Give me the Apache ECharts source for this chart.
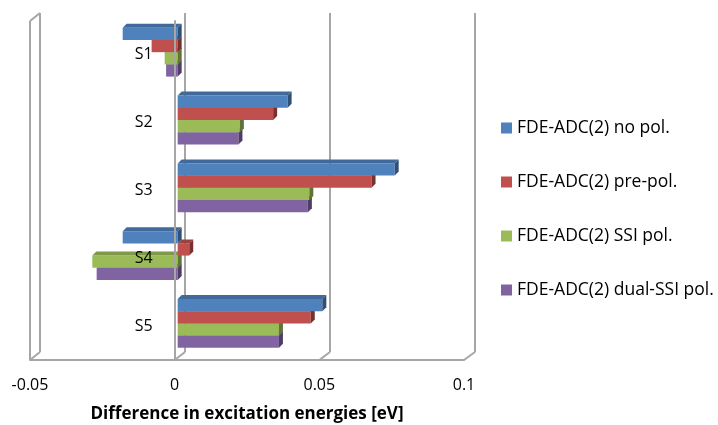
<!DOCTYPE html>
<html>
<head>
<meta charset="utf-8">
<script src="https://cdn.jsdelivr.net/npm/echarts@6/dist/echarts.min.js"></script>
<style>
  html, body { margin: 0; padding: 0; background: #fff; }
  #chart { width: 718px; height: 425px; }
</style>
</head>
<body>
<div id="chart"></div>
<script>
// Excitation-energy differences per state and polarisation scheme
const states = ['S1', 'S2', 'S3', 'S4', 'S5'];
const seriesNames = [
  'FDE-ADC(2) no pol.',
  'FDE-ADC(2) pre-pol.',
  'FDE-ADC(2) SSI pol.',
  'FDE-ADC(2) dual-SSI pol.'
];
const noPol      = [-0.019, 0.038, 0.075, -0.019, 0.050];
const prePol     = [-0.009, 0.033, 0.067,  0.004, 0.046];
const ssiPol     = [-0.0045, 0.0215, 0.0455, -0.0295, 0.035];
const dualSsiPol = [-0.004, 0.021, 0.045, -0.028, 0.035];
const valueTicks = [-0.05, 0, 0.05, 0.1];

const seriesValues = [noPol, prePol, ssiPol, dualSsiPol];
const colors = ['#4f81bd', '#c0504d', '#9bbb59', '#8064a2'];

const FONT = '"Open Sans", Lato, sans-serif';
const WALL = '#a6a6a6';

// front plane and back wall of the pseudo-3D plot box
const FRONT = { left: 30, top: 21, width: 434, height: 339 };
const BACK  = { left: 40, top: 13, width: 435, height: 339 };
const DEPTH = 4;     // bar depth in px
const SHIFT = 3;     // bars sit slightly behind the front plane
const CAT_LABEL_GAP = 22;

function shade(hex, f) {
  const n = parseInt(hex.slice(1), 16);
  const r = Math.round(((n >> 16) & 255) * f);
  const g = Math.round(((n >> 8) & 255) * f);
  const b = Math.round((n & 255) * f);
  return 'rgb(' + r + ',' + g + ',' + b + ')';
}

function renderBar(params, api) {
  const si = params.seriesIndex;
  const v = api.value(0);
  const c = api.value(1);
  const p0 = api.coord([0, c]);
  const p1 = api.coord([v, c]);
  const band = api.size([0, 1])[1];
  const h = band * 0.18;
  const y = p0[1] - band * 0.4 + si * h;
  const xa = Math.min(p0[0], p1[0]) + SHIFT;
  const xb = Math.max(p0[0], p1[0]) + SHIFT;
  const base = colors[si];
  const d = DEPTH;
  return {
    type: 'group',
    children: [
      { type: 'rect', shape: { x: xa, y: y, width: xb - xa, height: h },
        style: { fill: base } },
      { type: 'polygon', shape: { points: [[xa, y], [xb, y], [xb + d, y - d], [xa + d, y - d]] },
        style: { fill: shade(base, 0.82) } },
      { type: 'polygon', shape: { points: [[xb, y], [xb + d, y - d], [xb + d, y + h - d], [xb, y + h]] },
        style: { fill: shade(base, 0.62) } }
    ]
  };
}

const chart = echarts.init(document.getElementById('chart'), null, { renderer: 'canvas' });

const option = {
  backgroundColor: '#fff',
  animation: false,
  textStyle: { fontFamily: FONT },
  legend: {
    orient: 'vertical',
    left: 501,
    top: 119,
    padding: 0,
    itemWidth: 11,
    itemHeight: 11,
    itemGap: 36,
    icon: 'rect',
    textStyle: { fontFamily: FONT, fontSize: 17.5, lineHeight: 16, color: '#000' },
    data: seriesNames
  },
  grid: [
    Object.assign({ containLabel: false, outerBoundsMode: 'none' }, FRONT),
    Object.assign({ containLabel: false, outerBoundsMode: 'none' }, BACK)
  ],
  xAxis: [
    {
      type: 'value', gridIndex: 0,
      min: valueTicks[0], max: valueTicks[valueTicks.length - 1], interval: 0.05,
      axisLine: { show: true, onZero: false, lineStyle: { color: WALL, width: 2 } },
      axisTick: { show: false },
      splitLine: { show: false },
      axisLabel: { fontSize: 16, color: '#000', fontFamily: FONT, margin: 17,
                   formatter: v => String(+v.toFixed(2)) },
      name: 'Difference in excitation energies [eV]',
      nameLocation: 'middle',
      nameGap: 46,
      nameTextStyle: { fontSize: 17, fontWeight: 'bold', color: '#000', fontFamily: FONT }
    },
    {
      type: 'value', gridIndex: 1,
      min: valueTicks[0], max: valueTicks[valueTicks.length - 1], interval: 0.05,
      axisLine: { show: false }, axisTick: { show: false }, axisLabel: { show: false },
      splitLine: { show: true, lineStyle: { color: WALL, width: 2 } }
    }
  ],
  yAxis: [
    {
      type: 'category', gridIndex: 0, data: states, inverse: true, z: 10,
      axisLine: { show: true, onZero: true, lineStyle: { color: WALL, width: 2 } },
      axisTick: { show: false },
      axisLabel: { fontSize: 16, color: '#000', fontFamily: FONT, margin: CAT_LABEL_GAP },
      splitLine: { show: false }
    },
    {
      type: 'value', gridIndex: 1, show: false,
      splitLine: { show: false }
    }
  ],
  series: seriesValues.map((vals, i) => ({
    name: seriesNames[i],
    type: 'custom',
    xAxisIndex: 0,
    yAxisIndex: 0,
    z: 6 - i,
    itemStyle: { color: colors[i] },
    renderItem: renderBar,
    encode: { x: 0, y: 1 },
    data: vals.map((v, c) => [v, c])
  }))
};

chart.setOption(option);

// state labels sit just left of the zero line
const zeroX = chart.convertToPixel({ xAxisIndex: 0 }, 0);
chart.setOption({
  yAxis: [{ axisLabel: { margin: CAT_LABEL_GAP - (zeroX - FRONT.left) } }, {}]
});

// wall edges: left side wall and floor diagonals joining front and back planes
const frontBottom = FRONT.top + FRONT.height;
const backBottom = BACK.top + BACK.height;
const edges = [];
const fx0 = chart.convertToPixel({ xAxisIndex: 0 }, valueTicks[0]);
const bx0 = chart.convertToPixel({ xAxisIndex: 1 }, valueTicks[0]);
edges.push([[fx0, FRONT.top], [fx0, frontBottom]]);
edges.push([[fx0, FRONT.top], [bx0, BACK.top]]);
valueTicks.forEach(t => {
  const fx = chart.convertToPixel({ xAxisIndex: 0 }, t);
  const bx = chart.convertToPixel({ xAxisIndex: 1 }, t);
  edges.push([[fx, frontBottom], [bx, backBottom]]);
});
chart.setOption({
  graphic: edges.map(pts => ({
    type: 'polyline', z: 1, silent: true,
    shape: { points: pts },
    style: { stroke: WALL, lineWidth: 2, fill: null }
  }))
});
</script>
</body>
</html>
